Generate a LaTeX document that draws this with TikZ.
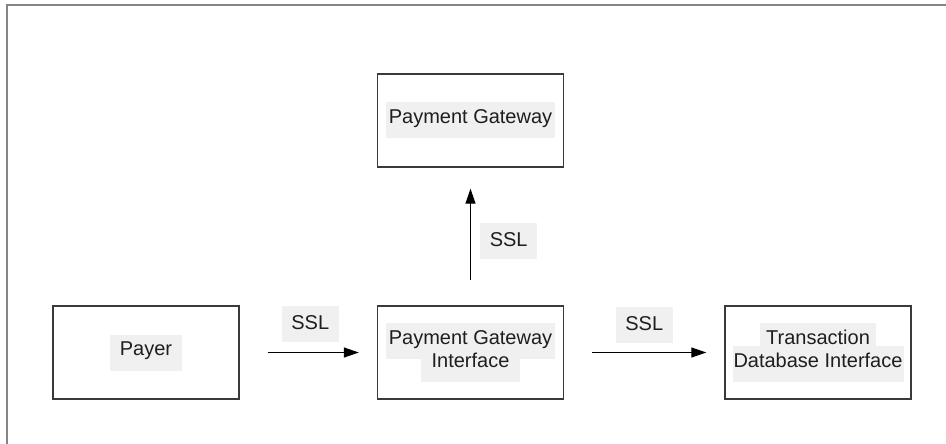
\documentclass[tikz,border=0pt]{standalone}
\usepackage{fontspec}
\setmainfont{Liberation Sans}
\usetikzlibrary{arrows.meta}
\definecolor{lblbg}{HTML}{F0F0F0}
\definecolor{framegray}{HTML}{858585}
\definecolor{boxline}{HTML}{3A3A3A}
\definecolor{txt}{HTML}{1E1E1E}
\setlength{\fboxsep}{0pt}
% caption font; lines keep a fixed baseline distance even with tall strips
\newcommand{\capfont}{\fontsize{20}{23}\selectfont\lineskiplimit=-100pt\relax}
% shaded strip behind one line of a box caption; optional side padding
\newcommand{\capline}[2][3pt]{\colorbox{lblbg}{\rule[-15pt]{0pt}{36pt}\hspace{#1}#2\hspace{#1}}}
\begin{document}
\begin{tikzpicture}[x=1pt,y=-1pt,
  every node/.style={text=txt, font=\capfont},
  block/.style={draw=boxline, line width=1.4pt, fill=white, minimum width=186pt,
    minimum height=93pt, inner sep=0pt, align=center},
  ssl/.style={fill=lblbg, inner sep=0pt, minimum width=57pt, text height=24pt, text depth=12pt},
  arr/.style={draw=black, line width=1.3pt, -{Triangle[length=15pt,width=10pt]},
    shorten <=28pt, shorten >=18pt}]
  \useasboundingbox (0,0) rectangle (946,444);
  \fill[white] (0,0) rectangle (946,444);
  % outer frame (only its top and left sides fall inside the picture)
  \draw[framegray, line width=2.2pt] (7,444) -- (7,5) -- (946,5);

  \node[block] (payer) at (146,352.5) {\capline[10pt]{Payer}};
  \node[block] (pgi) at (470.5,352.5) {\capline{Payment Gateway}\\\capline[11pt]{Interface}};
  \node[block] (tdi) at (818,352.5) {\capline[6pt]{Transaction}\\\capline[1pt]{Database Interface}};
  \node[block] (pg) at (470.5,120.5) {\capline{Payment Gateway}};

  \draw[arr] (payer) -- node[ssl, above=10pt, xshift=2pt] (s1) {SSL} (pgi);
  \draw[arr] (pgi) -- node[ssl, above=9pt] (s2) {SSL} (tdi);
  \draw[arr, shorten <=25pt, shorten >=21pt] (pgi) -- node[ssl, right=9pt, yshift=-4pt] (s3) {SSL} (pg);
\end{tikzpicture}
\end{document}
